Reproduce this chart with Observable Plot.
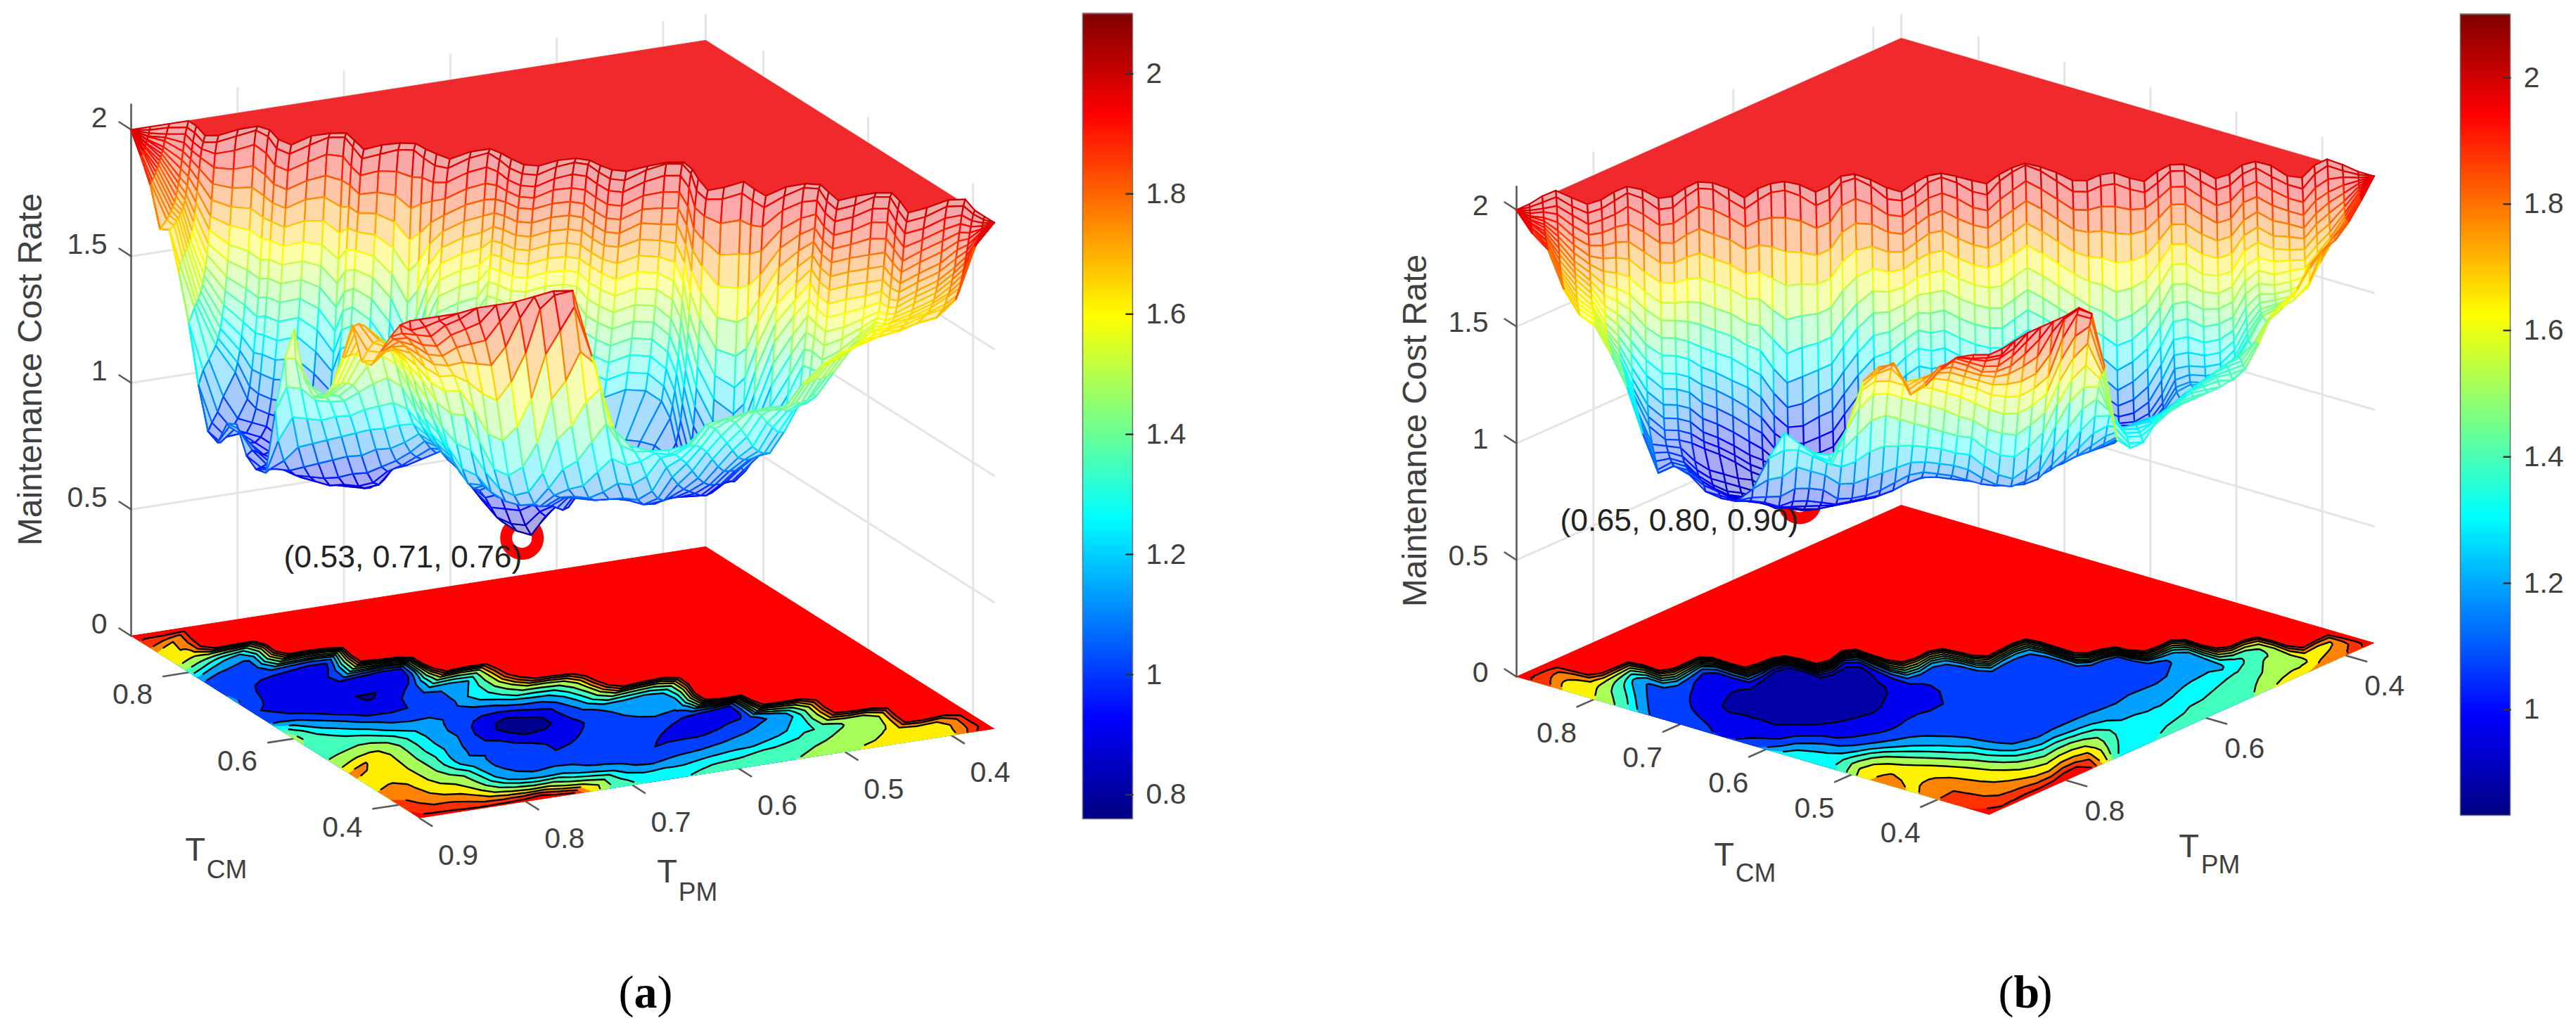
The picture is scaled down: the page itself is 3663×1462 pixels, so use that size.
<!DOCTYPE html>
<html>
<head>
<meta charset="utf-8">
<script src="https://cdn.jsdelivr.net/npm/d3@7"></script>
<script src="https://cdn.jsdelivr.net/npm/@observablehq/plot@0.6"></script>
<style>html,body{margin:0;padding:0;background:#fff}#page{display:flex;width:3663px}svg{display:block}</style>
</head>
<body>
<div id="page"></div>
<script>
// Surface values. Each column runs across the valley, along the B-F diagonal of the floor,
// at a fixed place along the L-R diagonal: 16 wall values (z x 100), then values at t = .58, .60, ..., then the floor-edge value.
const ridgeA=[.5,.483,.467,.46,.485,.505,.508,.49,.472,.48,.5,.505,.485,.47,.463,.485,.503,.49,.477,.473,.488,.5,.504,.48,.464,.475,.49,.496,.495,.478,.465,.467,.48,.49,.49,.465,.445,.44,.46,.49,.507,.5,.482,.495,.505,.485,.467,.465,.487,.503,.49,.472,.467,.49,.51,.495,.47,.462,.47,.484,.5];
const ridgeB=[.5,.483,.467,.47,.487,.503,.498,.482,.466,.478,.5,.496,.478,.46,.465,.485,.502,.49,.475,.47,.482,.5,.49,.46,.455,.475,.495,.503,.49,.47,.463,.475,.49,.495,.475,.455,.442,.455,.475,.495,.498,.488,.483,.495,.5,.485,.465,.465,.485,.5,.495,.475,.465,.48,.5,.508,.485,.467,.47,.484,.5];
const columnsA=[
[200,200,200,200,200,200,200,200,200,200,200,200,200,200,200,200,200],
[200,199,198,197,197,196,196,195,195,194,194,193,193,193,192,192,192],
[200,199,197,196,195,193,192,191,190,189,188,187,186,185,184,184,183],
[200,198,196,193,190,187,184,181,179,177,175,173,172,171,170,169,168],
[201,199,196,193,190,187,184,181,178,176,174,173,172,171,171,170,170],
[200,198,196,193,189,185,181,177,173,170,167,164,163,162,161,160,158,155],
[201,199,195,190,184,178,172,167,162,158,154,151,148,146,144,143,142,138],
[203,200,195,188,181,174,167,160,154,148,143,138,134,130,127,125,122,120,116],
[204,201,196,188,180,172,164,156,149,142,136,130,125,120,116,113,108,104,102,100],
[203,200,194,186,178,170,162,154,147,140,133,127,120,114,108,104,100,98,97,97,98],
[201,198,192,185,178,171,164,157,150,143,136,129,122,115,108,103,99,97,99,103,106,108],
[200,197,191,184,177,170,163,156,149,142,135,128,121,114,107,102,98,96,96,98,103,108,110],
[202,199,193,186,179,171,163,156,149,142,135,128,120,112,104,98,94,93,93,94,97,100,100],
[204,201,195,187,179,170,161,153,145,137,129,121,113,106,100,96,92,91,91,92,93,95,96,97],
[205,201,194,185,175,165,155,146,137,128,120,113,106,100,96,93,91,90,90,91,92,94,96,98,98],
[203,200,193,186,178,170,162,154,146,139,132,125,118,111,105,99,93,89,88,88,89,92,96,102,112,125],
[201,198,192,185,178,171,164,157,150,143,136,129,122,114,107,100,94,88,86,86,88,92,98,108,122,136,148],
[203,199,193,185,177,169,161,153,145,137,129,122,114,106,99,93,90,87,85,85,87,92,100,110,122,136,150,162],
[204,200,192,183,173,163,153,144,135,126,118,110,103,97,92,89,86,84,84,85,88,93,102,112,122,132,140,145],
[205,200,190,178,166,154,142,131,121,112,104,97,92,89,87,86,85,84,83,85,88,95,104,114,124,132,137,139,140],
[203,199,192,182,171,160,149,139,129,120,112,105,99,95,92,90,89,88,87,87,90,96,105,116,125,133,137,140,141,142],
[202,198,192,185,177,169,161,153,146,139,132,126,120,114,108,103,100,97,95,94,95,99,108,118,128,137,142,145,147,148,150],
[201,198,193,187,181,175,169,163,157,151,145,139,133,127,121,116,108,102,98,96,98,102,109,119,130,141,150,156,159,161,162,163],
[203,200,195,189,183,177,171,165,159,153,147,141,135,129,123,118,104,100,98,99,102,106,112,121,132,144,155,163,169,173,176,177,178],
[204,201,196,190,184,178,172,166,160,154,148,142,136,130,124,119,111,104,101,102,106,111,116,122,130,141,152,160,165,168,169,168,166],
[203,200,196,191,186,181,176,171,166,161,156,151,146,141,136,131,120,110,106,105,106,109,113,118,124,132,142,152,160,165,168,168,167,167],
[202,199,195,191,187,182,177,172,167,162,157,152,147,142,137,132,124,112,105,102,101,103,107,112,118,124,132,142,152,160,166,170,173,174,175],
[201,198,194,190,186,181,176,171,166,161,156,151,146,141,136,131,120,108,102,97,96,98,103,108,113,119,126,134,144,154,162,169,174,178,181,183],
[201,198,194,190,186,181,176,171,166,161,156,151,146,141,136,130,116,105,96,90,88,90,95,100,105,110,116,124,134,146,156,164,171,177,182,186,190],
[203,200,196,192,187,182,177,172,167,162,157,152,147,142,136,130,110,100,90,82,80,84,90,96,101,104,108,116,128,142,153,161,168,174,180,186,190,194],
[204,201,197,192,187,182,177,172,167,162,157,152,147,141,135,129,102,96,88,79,77,82,90,98,104,106,108,114,126,142,154,162,168,174,180,186,192,197],
[204,201,197,192,187,182,177,172,167,162,157,152,147,141,135,128,100,93,85,77,76,82,90,97,101,103,104,108,118,132,147,160,170,178,185,191,195,197],
[203,200,196,191,186,181,176,171,166,160,154,148,142,136,130,124,104,98,90,84,84,88,93,98,101,102,103,105,112,122,138,156,170,180,188,194,197],
[202,199,195,190,185,180,175,170,165,159,153,147,141,135,129,123,108,101,95,91,90,91,94,98,100,101,102,104,110,120,136,154,170,182,191,198],
[202,199,195,190,185,180,175,169,163,157,151,145,139,133,127,121,106,101,97,94,92,91,92,95,98,100,102,105,112,124,142,162,178,190,198],
[204,201,197,192,187,182,176,170,164,158,152,146,140,134,128,122,107,104,103,102,101,100,100,101,102,104,107,112,120,134,154,174,190,198],
[206,202,198,192,186,180,174,168,162,156,150,144,138,132,126,120,108,105,103,102,101,101,101,101,102,105,110,120,134,152,172,192,199],
[206,203,198,192,186,180,173,166,159,152,145,139,133,127,121,116,108,105,103,102,101,100,100,100,102,105,112,124,140,160,182,198,200],
[205,201,196,189,182,175,168,161,154,147,140,133,127,121,116,112,107,104,102,101,100,100,100,101,103,108,118,132,150,172,192,199],
[202,198,192,184,176,168,160,152,145,138,131,125,119,113,109,106,103,101,100,99,99,99,99,101,104,112,124,140,156,168,172],
[200,197,191,182,172,162,152,143,134,126,119,112,106,101,97,95,94,93,93,94,95,96,98,100,104,112,122,132,140,143],
[201,197,188,176,164,152,140,130,121,113,106,100,96,93,92,92,92,92,93,95,97,99,100,103,108,116,124,130,134],
[203,198,188,175,162,149,136,124,114,106,99,95,92,91,91,91,91,92,94,97,100,103,107,112,118,124,128,131],
[201,197,188,177,165,153,141,130,120,112,105,99,95,93,93,94,96,97,99,101,104,108,113,118,122,126,128,130],
[200,196,189,180,171,162,153,144,135,126,118,111,105,101,99,100,102,103,105,107,111,116,121,125,128,130,131],
[202,199,194,187,180,173,166,159,152,145,137,129,121,114,109,106,107,108,110,113,118,123,128,133,136,138],
[204,201,196,190,184,178,172,166,160,154,147,140,132,125,118,113,109,111,114,118,124,129,134,137,139],
[204,201,197,192,187,182,177,172,167,161,155,149,143,137,130,124,118,120,124,128,133,137,139,140],
[202,199,195,190,185,180,175,170,165,160,155,150,145,139,133,127,129,129,131,134,137,139,140],
[201,198,194,189,184,179,174,169,164,159,154,149,144,139,135,132,134,134,135,137,138,139,139],
[202,199,195,190,185,180,175,170,165,160,155,151,147,144,142,141,142,143,145,146,147,148],
[204,201,197,192,186,180,175,170,165,161,157,154,152,151,150,150,150,151,152,153,154],
[204,201,197,192,186,181,176,171,167,163,160,158,157,156,155,155,155,156,157,158],
[202,199,195,190,185,180,175,171,167,164,162,160,159,159,159,159,159,160,160],
[200,197,193,188,183,179,175,172,169,167,165,164,163,163,162,162,162,162],
[201,198,194,190,186,182,178,175,172,170,168,166,165,164,164,163,163,163],
[203,200,196,192,188,184,180,177,174,172,170,168,167,166,165,165,165],
[203,200,197,194,191,188,185,182,179,177,175,173,171,170,168,167,166],
[200,199,197,195,193,191,189,187,185,183,181,179,177,175,173,172,172],
[200,199,198,197,196,196,195,195,194,194,194,193,193,193,192,192,192],
[200,200,200,200,200,200,200,200,200,200,200,200,200,200,200,200,200]];
const columnsB=[
[200,200,200,200,200,200,200,200,200,200,200,200,200,200,200,200,200],
[200,199,198,197,196,196,195,195,194,194,194,193,193,193,192,192,192],
[201,199,197,196,194,193,192,191,190,189,189,188,188,187,187,187,187],
[202,200,197,194,191,188,186,184,182,180,178,176,175,174,173,172,172],
[201,198,195,191,187,184,181,178,176,174,172,170,168,166,165,164,163],
[200,197,193,189,185,181,178,175,172,170,168,166,164,163,162,161,160,160],
[201,198,194,189,184,179,174,169,165,161,158,155,153,152,151,150,150,150],
[202,199,194,189,183,177,171,165,160,155,151,147,144,142,140,139,139,138,138],
[204,200,195,188,181,174,167,160,154,148,142,137,132,128,125,123,122,121,120,120],
[203,199,193,186,178,170,162,155,148,141,135,129,123,118,114,111,108,107,106,105,105],
[201,197,191,184,176,168,160,153,146,139,132,126,120,115,111,108,107,107,107,108,109,110],
[201,197,191,183,175,167,159,152,145,138,131,125,119,114,110,107,106,105,105,106,107,108,108],
[203,199,192,184,175,166,157,149,141,134,127,121,115,110,106,103,100,99,99,100,102,103,103],
[205,200,193,184,174,164,154,145,136,128,121,114,108,103,100,98,96,95,95,96,98,100,101,102],
[204,200,192,182,172,162,152,143,134,126,119,112,106,101,98,96,94,93,92,93,95,97,99,101,103],
[202,198,191,182,172,162,152,143,134,125,118,111,105,100,97,95,92,91,91,92,94,96,98,101,105,110],
[200,196,189,180,170,160,150,141,132,124,116,109,103,98,95,93,91,89,89,90,92,95,97,100,105,115,125],
[202,198,190,180,169,158,147,137,127,118,110,104,98,94,91,89,87,87,87,88,90,92,95,98,105,116,130,138],
[204,199,189,177,164,151,139,127,117,108,101,95,91,88,87,87,86,86,86,87,89,92,95,100,108,120,130,135],
[205,199,188,174,160,146,132,120,110,102,96,91,88,86,86,86,86,85,85,86,88,91,95,100,108,118,127,131,132],
[203,198,188,175,162,149,136,124,113,104,97,92,88,86,85,85,85,85,85,86,88,91,95,99,107,116,124,130,130,130],
[201,196,187,176,164,152,140,129,119,110,102,96,91,88,87,86,86,86,87,88,90,92,95,98,103,112,122,132,142,146,148],
[202,197,188,177,165,153,141,130,120,111,103,97,92,89,88,88,88,88,88,89,91,93,96,99,103,112,124,138,152,162,167,170],
[205,200,191,180,168,156,144,133,123,114,106,100,96,93,91,90,89,89,89,90,92,94,97,100,104,114,128,144,158,166,172,176,178],
[205,201,193,183,172,161,150,140,130,121,113,106,100,96,93,91,90,90,90,91,93,95,98,101,106,116,130,146,158,166,174,179,181],
[204,200,193,185,176,167,158,149,140,131,123,116,109,103,98,95,92,92,93,94,96,98,100,103,109,118,130,144,156,164,168,169,170,170],
[201,197,191,184,176,168,160,152,144,136,128,120,113,107,102,98,95,95,96,98,99,101,103,106,112,120,130,142,154,163,169,172,174,175,176],
[200,197,191,184,177,170,163,156,149,142,135,128,121,114,108,103,99,98,98,99,101,103,105,108,113,120,129,140,152,162,169,174,178,182,184,185],
[202,198,193,186,179,172,165,158,151,144,137,130,123,116,110,105,101,100,100,101,102,104,106,108,112,119,128,138,150,160,168,174,179,184,188,191,192],
[204,200,194,187,180,172,164,156,148,140,133,126,120,114,109,105,103,102,102,102,103,104,105,107,111,118,126,136,147,158,166,172,177,182,186,190,193,195],
[205,201,195,188,180,172,164,156,148,140,133,126,120,114,109,105,103,102,102,102,103,104,105,106,109,116,125,135,145,155,164,170,175,179,184,189,193,197],
[204,200,194,186,178,170,162,154,146,138,131,124,118,112,107,104,103,102,102,102,103,104,104,105,107,112,120,130,141,152,161,168,174,179,184,190,194,197],
[202,198,192,185,177,169,161,153,145,137,130,123,117,111,107,104,103,102,102,102,103,103,104,105,106,109,116,127,139,150,160,168,175,181,188,194,198],
[201,197,191,184,176,168,160,152,144,136,129,122,116,111,107,105,104,103,103,103,103,103,104,105,106,108,114,126,138,150,160,169,178,186,194,199],
[204,200,193,185,176,167,158,149,141,133,126,120,115,110,107,105,104,104,103,103,103,103,104,105,106,110,118,130,142,153,163,172,182,192,199],
[205,201,194,186,177,168,159,150,142,134,127,121,116,112,109,107,105,104,104,104,104,104,105,106,108,114,124,136,147,158,168,180,192,199],
[206,202,196,188,179,170,161,152,144,136,129,123,118,113,110,108,105,105,105,105,105,106,107,109,114,124,136,148,160,172,184,195,199],
[205,201,194,186,177,168,159,150,142,134,127,120,115,111,108,106,105,105,105,106,106,107,109,113,120,132,146,158,170,182,194,199,200],
[203,199,192,184,175,166,157,148,140,132,125,118,112,108,106,105,105,105,106,106,107,109,112,118,128,140,152,164,176,186,192,195],
[201,197,190,182,173,164,155,146,137,129,122,116,111,107,105,104,104,105,105,106,108,111,116,124,134,144,152,158,163,167,170],
[201,197,190,181,171,161,151,142,133,125,118,112,108,105,103,103,103,104,105,107,110,114,120,127,134,138,138,137,136,136],
[202,198,190,180,169,158,147,137,128,120,113,108,105,103,103,103,103,104,106,109,113,117,122,126,128,129,130,130,130],
[203,198,189,178,166,154,142,132,122,114,108,104,102,102,102,103,105,107,110,114,118,122,125,127,128,129,130,130],
[201,197,189,179,168,157,146,136,127,119,112,107,104,103,103,104,106,109,113,117,121,124,126,128,130,133,135,136],
[200,196,190,181,171,161,151,142,133,125,118,112,108,106,105,106,108,112,116,120,123,126,129,132,135,137,138],
[202,198,192,184,175,166,157,148,140,132,125,119,114,111,110,110,113,116,120,124,127,130,133,136,138,139],
[204,200,194,187,179,171,163,155,147,140,133,127,122,118,116,115,118,122,126,129,132,135,137,138,139],
[204,200,194,187,179,171,163,155,148,141,134,128,123,120,118,118,122,127,130,133,135,137,138,139],
[202,198,192,185,177,169,161,154,147,140,134,129,125,122,120,120,127,131,134,136,138,139,139],
[200,196,190,183,176,169,162,155,149,143,137,132,128,125,124,125,132,135,137,138,139,139,140],
[201,197,191,184,177,170,163,157,151,145,140,136,133,131,131,132,136,138,139,140,141,142],
[203,199,194,188,181,175,169,163,157,152,147,143,140,138,137,137,140,144,147,149,150],
[204,200,195,189,183,177,171,165,160,155,151,148,146,145,145,146,150,154,157,160],
[202,198,193,187,181,175,170,165,160,156,153,151,150,150,150,151,155,160,163],
[200,197,192,187,182,177,172,168,164,160,157,155,155,155,156,157,162,166],
[200,196,191,186,181,177,173,169,166,163,161,160,160,161,163,165,172,174],
[202,199,194,189,184,180,176,172,169,167,166,166,167,169,172,175,178],
[204,200,195,190,186,182,178,175,173,172,172,173,174,176,178,179,180],
[201,199,197,194,191,188,186,184,183,182,182,183,183,184,184,185,185],
[200,199,198,197,196,195,194,193,193,192,192,192,192,192,192,192,192],
[200,200,200,200,200,200,200,200,200,200,200,200,200,200,200,200,200]];
const wallDelta=[-.012,-.006,0,.004,.008,.012,.016,.02,.024,.028,.033,.038,.044,.05,.058,.066];

const levelsA=[0,.84,.96,1.07,1.2,1.31,1.45,1.6,1.72,1.83,1.93];
const bandsA=[.78,.9,1.01,1.135,1.26,1.35,1.48,1.62,1.76,1.87,1.9325];
const levelsB=[0,.93,1.02,1.13,1.25,1.35,1.47,1.6,1.73,1.84,1.93];
const bandsB=[.88,.97,1.07,1.19,1.31,1.39,1.52,1.64,1.78,1.88,1.94];
const zTicks=[0,.5,1,1.5,2];
const pmTicksA=[.9,.8,.7,.6,.5,.4], cmTicksA=[.4,.6,.8];
const pmTicksB=[.8,.6,.4], cmTicksB=[.8,.7,.6,.5,.4];
const barTicksA=[.8,1,1.2,1.4,1.6,1.8,2], barTicksB=[1,1.2,1.4,1.6,1.8,2];

const jetStops=[0,.125,.375,.625,.875,1], jetColors=["#000080","#0000ff","#00ffff","#ffff00","#ff0000","#800000"];
const sansFont='"Liberation Sans",Arial,sans-serif', inkColor="#404040";
const faceTint=.34, surfaceCap=2.02;

function panel(cfg){
  const {F,R,L,zPx,uMin,uMax,vMin,vMax,ridge,columns,levels,bands}=cfg;
  const project=(u,v,z)=>{const a=(uMax-u)/(uMax-uMin), b=(v-vMin)/(vMax-vMin);
    return {x:F[0]+a*(R[0]-F[0])+b*(L[0]-F[0]), y:F[1]+a*(R[1]-F[1])+b*(L[1]-F[1])-z*zPx};};
  // s runs along the L-R floor diagonal, t along the B-F one
  const uv=(s,t)=>({u:uMax-(s-t+.5)*(uMax-uMin), v:vMin+(1.5-s-t)*(vMax-vMin)});
  const at=(s,t,z)=>{const {u,v}=uv(s,t);return project(u,v,z);};
  const nC=columns.length, nR=38;
  const S=[],T=[],Z=[];
  for(let k=0;k<nC;k++){
    const s=k/(nC-1), d=Math.min(s,1-s), tEdge=.5+d, rid=ridge[k];
    const col=columns[k], wall=col.slice(0,16), rest=col.slice(16);
    const low=Math.max(.5-d,rid-.012), high=Math.min(tEdge,rid+.066);
    T[k]=[];Z[k]=[];
    for(let r=0;r<nR;r++){
      let t,z;
      if(r<16){t=low+(high-low)*(wallDelta[r]+.012)/.078;z=wall[r];}
      else{const i=r-16;
        if(i<rest.length-1){t=Math.min(.58+.02*i,tEdge);z=rest[i];}
        else{t=tEdge;z=rest[rest.length-1];}}
      T[k][r]=t;Z[k][r]=Math.min(z/100,surfaceCap);
    }
    S[k]=s;
  }
  // ---- wall grid, axis ----
  const gridRows=[];let gid=0;
  const seg=(p,q)=>{gid++;gridRows.push({...p,id:gid},{...q,id:gid});};
  for(const z of zTicks.slice(1)){
    seg(project(uMax,vMax,z),project(uMin,vMax,z));
    seg(project(uMin,vMax,z),project(uMin,vMin,z));
  }
  for(const u of cfg.pmTicks) if(u<uMax-.001) seg(project(u,vMax,0),project(u,vMax,2.1));
  for(const v of cfg.cmTicks) if(v<vMax-.001) seg(project(uMin,v,0),project(uMin,v,2.1));
  seg(project(uMin,vMax,0),project(uMin,vMax,2.1));

  const axisRows=[];let aid=0;
  const aseg=(p,q)=>{aid++;axisRows.push({...p,id:aid},{...q,id:aid});};
  aseg(project(uMax,vMax,0),project(uMax,vMax,2.1));
  for(const z of zTicks){const p=project(uMax,vMax,z);aseg(p,{x:p.x-17,y:p.y-11});}
  for(const u of cfg.pmTicks){aseg(project(u,vMin,0),project(u,vMin-.024,0));}
  for(const v of cfg.cmTicks){aseg(project(uMax,v,0),project(uMax+.024,v,0));}

  // ---- floor contours ----
  const grid=new Float64Array(nC*nR);
  for(let r=0;r<nR;r++)for(let k=0;k<nC;k++)grid[r*nC+k]=Z[k][r];
  const floorAt=(X,Y)=>{
    const kx=Math.max(0,Math.min(nC-1,X-.5)), ry=Math.max(0,Math.min(nR-1,Y-.5));
    const k0=Math.min(nC-2,Math.floor(kx)), r0=Math.min(nR-2,Math.floor(ry)), fk=kx-k0, fr=ry-r0;
    const tt=(1-fk)*((1-fr)*T[k0][r0]+fr*T[k0][r0+1])+fk*((1-fr)*T[k0+1][r0]+fr*T[k0+1][r0+1]);
    const ss=(1-fk)*S[k0]+fk*S[k0+1];
    const atEdge=tt>=.5+Math.min(ss,1-ss)-.004||ry<=.001||kx<=.001||kx>=nC-1.001||tt<=.5-Math.min(ss,1-ss)+.004;
    return {...at(ss,tt,0),atEdge};
  };
  const contours=d3.contours().size([nC,nR]).thresholds(levels)(grid);
  const features=[],contourRows=[];let cid=0;
  contours.forEach((c,i)=>{
    const coords=c.coordinates.map(poly=>poly.map(ring=>ring.map(([X,Y])=>{const p=floorAt(X,Y);return [p.x,p.y];})));
    features.push({type:"Feature",geometry:{type:"MultiPolygon",coordinates:coords},band:bands[i]});
    if(i===0)return;
    for(const poly of c.coordinates)for(const ring of poly){
      cid++;
      for(const [X,Y] of ring){
        const p=floorAt(X,Y);
        if(p.atEdge){cid++;continue;}
        contourRows.push({x:p.x,y:p.y,id:cid});
      }
    }
  });
  // ---- flat top and floor plateaus ----
  const topRows=[project(uMax,vMax,2),project(uMin,vMax,2),project(uMin,vMin,2)];
  const floorRows=[project(uMax,vMax,0),project(uMin,vMax,0),project(uMin,vMin,0)];
  for(let k=nC-1;k>=0;k--){topRows.push(at(S[k],T[k][0],Z[k][0]));floorRows.push(at(S[k],T[k][1],0));}
  const redZ=bands[bands.length-1];
  // ---- hidden-line mesh, far cells first ----
  const [bLo,bHi]=cfg.barDomain, span=bHi-bLo;
  const jet=d3.scaleLinear().domain(jetStops.map(f=>bLo+f*span)).range(jetColors).clamp(true);
  const meshRows=[];let qid=0;
  const kOrder=d3.range(nC-1); if(cfg.reverseColumns)kOrder.reverse();
  for(let r=0;r<nR-1;r++)for(const k of kOrder){
    const idx=[[k,r],[k+1,r],[k+1,r+1],[k,r+1]];
    const c=d3.mean(idx,([a,b])=>Z[a][b]);
    const pts=idx.map(([a,b])=>at(S[a],T[a][b],Z[a][b]));
    const area=Math.abs(d3.polygonArea(pts.map(p=>[p.x,p.y])));
    if(area<.3&&r>20)continue;
    qid++;
    const tint=d3.interpolateRgb("#ffffff",jet(c))(faceTint);
    for(const p of [...pts,pts[0]])meshRows.push({x:p.x,y:p.y,id:qid,c,tint});
  }
  // ---- colour bar ----
  const [bBot,bTop]=cfg.barY, [bL,bR]=cfg.barX;
  const cy=d3.scaleLinear().domain([bLo,bHi]).range([bBot,bTop]);
  const step=span/256, bar=d3.range(256).map(i=>bLo+i*step);
  const barOutline=[{x:bL,y:bBot},{x:bL,y:bTop},{x:bR,y:bTop},{x:bR,y:bBot},{x:bL,y:bBot}];
  const barTickRows=cfg.barTicks.flatMap((v,i)=>[{x:bR-9,y:cy(v),id:i},{x:bR,y:cy(v),id:i}]);

  const pmLabels=cfg.pmTicks.map(u=>({...project(u,vMin,0),text:String(u)}));
  const cmLabels=cfg.cmTicks.map(v=>({...project(uMax,v,0),text:String(v)}));
  const zLabels=zTicks.map(z=>({...project(uMax,vMax,z),text:String(z)}));
  const ring=project(cfg.best[1],cfg.best[0],cfg.best[2]);

  return Plot.plot({
    width:cfg.xDomain[1]-cfg.xDomain[0],height:1462,margin:0,
    x:{domain:cfg.xDomain,axis:null},
    y:{domain:[0,1462],range:[0,1462],axis:null},
    color:{type:"linear",domain:jetStops.map(f=>bLo+f*span),range:jetColors,clamp:true},
    style:{background:"#fff",fontFamily:sansFont,overflow:"visible"},
    marks:[
      Plot.line(gridRows,{x:"x",y:"y",z:"id",stroke:"#e4e4e4",strokeWidth:3}),
      Plot.line(axisRows,{x:"x",y:"y",z:"id",stroke:"#5a5a5a",strokeWidth:2.6}),
      Plot.dot([ring],{x:"x",y:"y",dx:cfg.ringShift[0],dy:cfg.ringShift[1],r:22.5,stroke:"#ff0000",strokeWidth:17,fill:"none"}),
      Plot.geo(features,{fill:d=>d.band}),
      Plot.line(floorRows,{x:"x",y:"y",fill:()=>redZ,stroke:()=>redZ,strokeWidth:1}),
      Plot.line(contourRows,{x:"x",y:"y",z:"id",stroke:"#000",strokeWidth:2.4,curve:"linear"}),
      Plot.line(topRows,{x:"x",y:"y",fill:"#f02a2c",stroke:"#f02a2c",strokeWidth:1}),
      Plot.line(meshRows,{x:"x",y:"y",z:"id",fill:"tint",stroke:"c",strokeWidth:2.2,strokeLinejoin:"round"}),
      Plot.text(zLabels,{x:"x",y:"y",text:"text",dx:cfg.zLabelDx,dy:cfg.zLabelDy,textAnchor:"end",fontSize:41,fill:inkColor}),
      Plot.text(pmLabels,{x:"x",y:"y",text:"text",dx:cfg.pmDx[0],dy:cfg.pmDx[1],fontSize:41,fill:inkColor}),
      Plot.text(cmLabels,{x:"x",y:"y",text:"text",dx:cfg.cmDx[0],dy:cfg.cmDx[1],fontSize:41,fill:inkColor}),
      Plot.text([{x:cfg.yLabel[0],y:cfg.yLabel[1]}],{x:"x",y:"y",text:()=>"Maintenance Cost Rate",rotate:-90,fontSize:48,fill:inkColor}),
      Plot.text([{x:cfg.tcm[0],y:cfg.tcm[1]}],{x:"x",y:"y",text:()=>"T",fontSize:47,fill:inkColor}),
      Plot.text([{x:cfg.tcm[2],y:cfg.tcm[3]}],{x:"x",y:"y",text:()=>"CM",fontSize:37,fill:inkColor}),
      Plot.text([{x:cfg.tpm[0],y:cfg.tpm[1]}],{x:"x",y:"y",text:()=>"T",fontSize:47,fill:inkColor}),
      Plot.text([{x:cfg.tpm[2],y:cfg.tpm[3]}],{x:"x",y:"y",text:()=>"PM",fontSize:37,fill:inkColor}),
      Plot.text([{x:cfg.note[0],y:cfg.note[1]}],{x:"x",y:"y",text:()=>cfg.noteText,textAnchor:"start",fontSize:44.5,fill:"#222"}),
      Plot.rect(bar,{x1:()=>bL,x2:()=>bR,y1:d=>cy(d)+.6,y2:d=>cy(d+step)-.6,fill:d=>d+step/2}),
      Plot.line(barOutline,{x:"x",y:"y",stroke:"#6e6e6e",strokeWidth:1.5}),
      Plot.line(barTickRows,{x:"x",y:"y",z:"id",stroke:"#333",strokeWidth:2.5}),
      Plot.text(cfg.barTicks,{x:()=>bR+19,y:d=>cy(d),text:d=>String(d),textAnchor:"start",fontSize:41,fill:inkColor}),
      Plot.text([0],{x:()=>cfg.cap[0]-37,y:()=>cfg.cap[1],text:()=>"(",textAnchor:"start",fontSize:66,fontFamily:'"Liberation Serif",serif',fill:"#000"}),
      Plot.text([0],{x:()=>cfg.cap[0]-15,y:()=>cfg.cap[1],text:()=>cfg.capText,textAnchor:"start",fontSize:66,fontWeight:"bold",fontFamily:'"Liberation Serif",serif',fill:"#000"}),
      Plot.text([0],{x:()=>cfg.cap[0]+18,y:()=>cfg.cap[1],text:()=>")",textAnchor:"start",fontSize:66,fontFamily:'"Liberation Serif",serif',fill:"#000"})
    ]
  });
}

const page=document.getElementById("page");
page.append(panel({
  xDomain:[0,1830],F:[596,1163],R:[1413,1036],L:[186,904],zPx:360,uMin:.36,uMax:.9,vMin:.36,vMax:.91,
  ridge:ridgeA,columns:columnsA,levels:levelsA,bands:bandsA,reverseColumns:false,
  pmTicks:pmTicksA,cmTicks:cmTicksA,zLabelDx:-34,zLabelDy:-17,pmDx:[55,53],cmDx:[-80,32],
  best:[.53,.71,.76],ringShift:[-15,0],note:[403,792],noteText:"(0.53, 0.71, 0.76)",
  yLabel:[43,525],tcm:[277,1208,322,1237],tpm:[948,1239,992,1269],
  barDomain:[.76,2.1],barY:[1164,19],barX:[1539,1610],barTicks:barTicksA,cap:[916,1411],capText:"a"
}));
page.append(panel({
  xDomain:[1830,3663],F:[2828,1158],R:[3375,914],L:[2156,962],zPx:332,uMin:.36,uMax:.91,vMin:.34,vMax:.89,
  ridge:ridgeB,columns:columnsB,levels:levelsB,bands:bandsB,reverseColumns:true,
  pmTicks:pmTicksB,cmTicks:cmTicksB,zLabelDx:-40,zLabelDy:-6,pmDx:[55,44],cmDx:[-53,48],
  best:[.65,.8,.9],ringShift:[0,14],note:[2218,740],noteText:"(0.65, 0.80, 0.90)",
  yLabel:[2012,612],tcm:[2451,1215,2496,1242],tpm:[3112,1203,3157,1230],
  barDomain:[.833,2.1],barY:[1159,20],barX:[3498,3569],barTicks:barTicksB,cap:[2878,1411],capText:"b"
}));
</script>
</body>
</html>
